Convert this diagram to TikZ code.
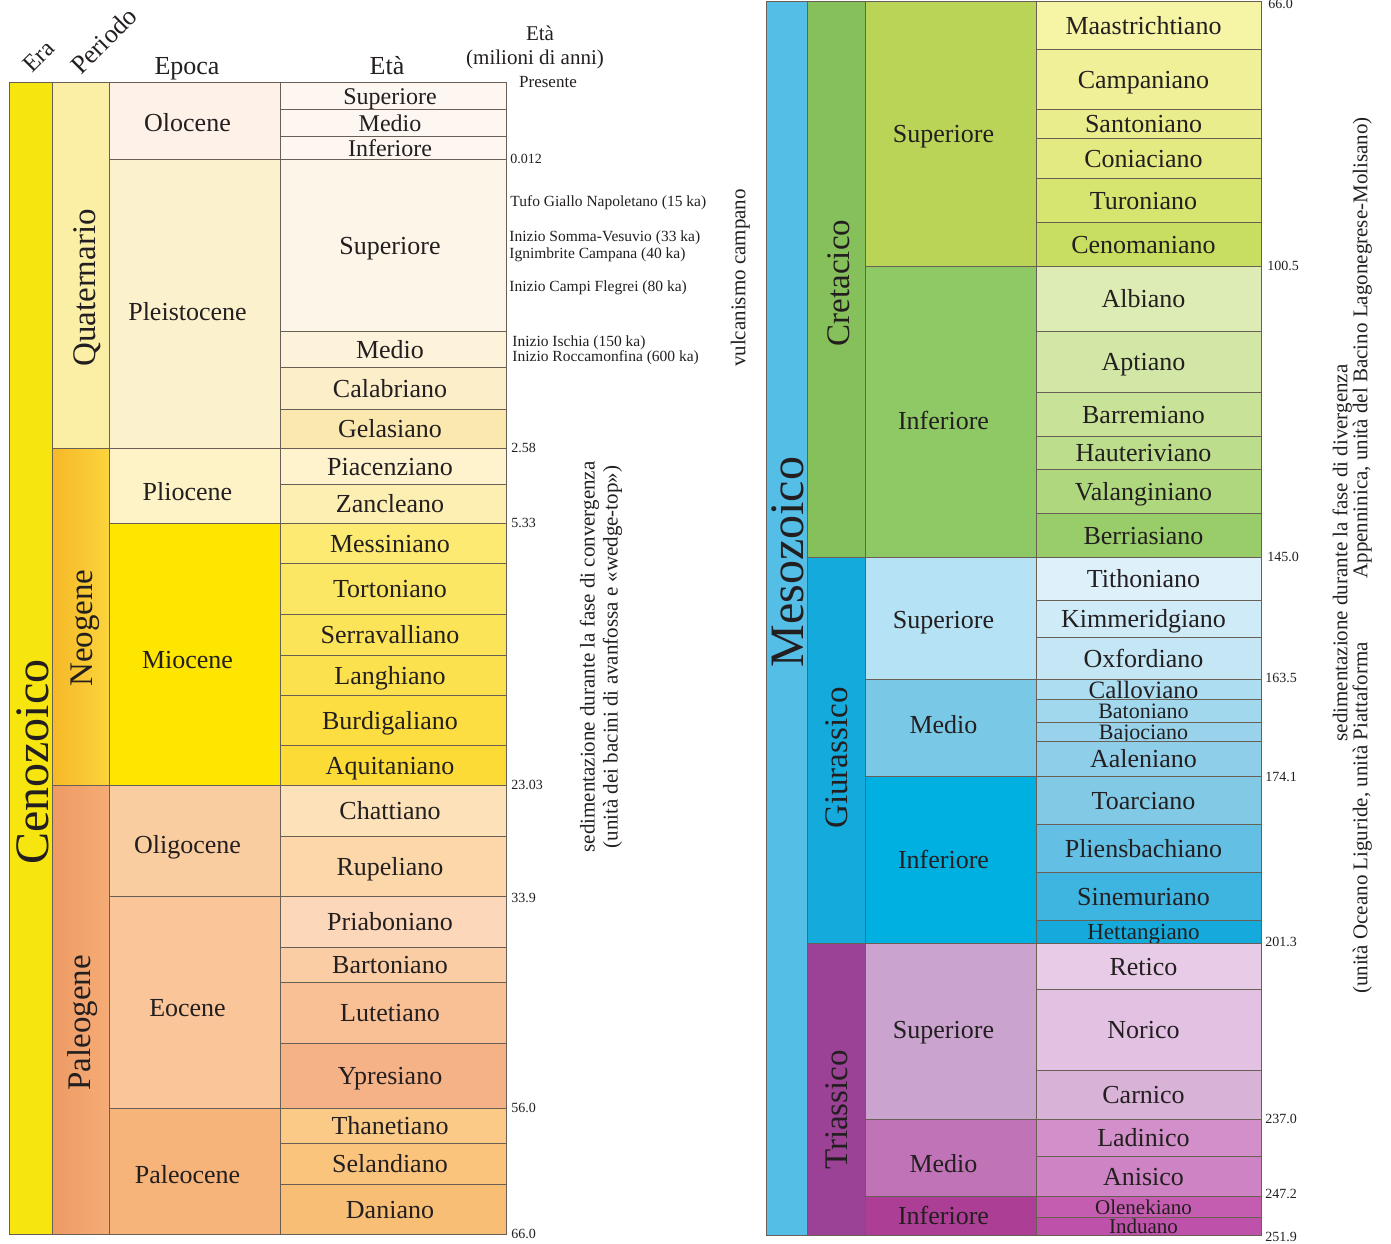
\documentclass[tikz,border=0pt]{standalone}
\usepackage{fontspec}
\setmainfont{Liberation Serif}
\definecolor{lc}{RGB}{105,95,85}
\definecolor{tc}{RGB}{35,31,32}
% left
\definecolor{cenoz}{RGB}{246,229,15}
\definecolor{quat}{RGB}{251,239,165}
\definecolor{olo}{RGB}{253,241,232}
\definecolor{olos}{RGB}{254,246,240}
\definecolor{pleis}{RGB}{252,241,205}
\definecolor{pl1}{RGB}{253,246,232}
\definecolor{pl2}{RGB}{253,242,218}
\definecolor{pl3}{RGB}{252,238,200}
\definecolor{pl4}{RGB}{251,232,175}
\definecolor{plio}{RGB}{254,243,198}
\definecolor{pi1}{RGB}{254,243,205}
\definecolor{pi2}{RGB}{253,238,178}
\definecolor{mio}{RGB}{255,230,0}
\definecolor{m1}{RGB}{252,234,115}
\definecolor{m2}{RGB}{252,231,100}
\definecolor{m3}{RGB}{252,228,88}
\definecolor{m4}{RGB}{252,225,78}
\definecolor{m5}{RGB}{252,222,66}
\definecolor{m6}{RGB}{252,219,55}
\definecolor{oligo}{RGB}{250,205,160}
\definecolor{o1}{RGB}{253,225,185}
\definecolor{o2}{RGB}{252,215,170}
\definecolor{eoc}{RGB}{250,197,152}
\definecolor{e1}{RGB}{253,215,185}
\definecolor{e2}{RGB}{251,205,165}
\definecolor{e3}{RGB}{249,192,150}
\definecolor{e4}{RGB}{245,178,135}
\definecolor{paleoc}{RGB}{246,180,122}
\definecolor{p1}{RGB}{252,202,135}
\definecolor{p2}{RGB}{250,196,125}
\definecolor{p3}{RGB}{249,190,118}
% right
\definecolor{mesoz}{RGB}{85,190,230}
\definecolor{creta}{RGB}{133,192,90}
\definecolor{crsup}{RGB}{186,212,88}
\definecolor{crinf}{RGB}{143,201,102}
\definecolor{c1}{RGB}{246,244,165}
\definecolor{c2}{RGB}{240,240,152}
\definecolor{c3}{RGB}{233,237,140}
\definecolor{c4}{RGB}{227,234,130}
\definecolor{c5}{RGB}{214,228,112}
\definecolor{c6}{RGB}{200,222,96}
\definecolor{c7}{RGB}{220,236,180}
\definecolor{c8}{RGB}{210,231,166}
\definecolor{c9}{RGB}{200,226,152}
\definecolor{c10}{RGB}{188,221,140}
\definecolor{c11}{RGB}{174,215,126}
\definecolor{c12}{RGB}{152,205,106}
\definecolor{giur}{RGB}{20,170,220}
\definecolor{gsup}{RGB}{182,226,245}
\definecolor{gmed}{RGB}{120,200,230}
\definecolor{ginf}{RGB}{0,176,225}
\definecolor{g1}{RGB}{222,241,251}
\definecolor{g2}{RGB}{207,235,248}
\definecolor{g3}{RGB}{196,230,245}
\definecolor{g4}{RGB}{172,221,240}
\definecolor{g5}{RGB}{162,216,238}
\definecolor{g6}{RGB}{152,211,235}
\definecolor{g7}{RGB}{142,206,232}
\definecolor{g8}{RGB}{130,201,230}
\definecolor{g9}{RGB}{100,191,228}
\definecolor{g10}{RGB}{62,181,225}
\definecolor{g11}{RGB}{22,170,220}
\definecolor{trias}{RGB}{155,65,150}
\definecolor{tsup}{RGB}{202,163,207}
\definecolor{tmed}{RGB}{192,115,182}
\definecolor{tinf}{RGB}{172,62,150}
\definecolor{t1}{RGB}{232,203,231}
\definecolor{t2}{RGB}{227,193,226}
\definecolor{t3}{RGB}{217,178,216}
\definecolor{t4}{RGB}{211,143,201}
\definecolor{t5}{RGB}{206,132,196}
\definecolor{t6}{RGB}{196,92,176}
\definecolor{t7}{RGB}{190,82,170}
\newcounter{nodec}
\def\xoff{3}
% stage cell: \bx{x1}{x2}{y1}{y2}{fill}{label}{size}
\newcommand\bx[7]{%
  \stepcounter{nodec}%
  \filldraw[fill=#5,draw=lc] (#1,#3) rectangle (#2,#4);
  \node[lab,anchor=base,font=\fontsize{#7}{#7}\selectfont] (n\arabic{nodec}) at ({(#1+#2)/2-\xoff},{(#3+#4)/2+0.36*#7}) {#6};}
% epoch cell: \ep{x1}{x2}{y1}{y2}{fill}{label}{baseline offset}
\newcommand\ep[7]{%
  \stepcounter{nodec}%
  \filldraw[fill=#5,draw=lc] (#1,#3) rectangle (#2,#4);
  \node[lab,anchor=base,font=\fontsize{26}{26}\selectfont] (n\arabic{nodec}) at ({(#1+#2)/2-\xoff},{(#3+#4)/2+#7}) {#6};}
\newcommand\vlab[5]{% x y size name text
  \node[lab,rotate=90,anchor=base,font=\fontsize{#3}{#3}\selectfont] (#4) at ({#1+0.35*#3},#2) {#5};}
\tikzset{
  lab/.style={text=tc,inner sep=0pt},
  small/.style={text=tc,inner sep=0pt,anchor=west,font=\fontsize{15.5}{17}\selectfont},
  agel/.style={text=tc,inner sep=0pt,anchor=west,font=\fontsize{14}{15}\selectfont}
}
\begin{document}
\begin{tikzpicture}[x=1pt,y=-1pt,line width=0.9pt]
\useasboundingbox (0,0) rectangle (1391,1243);
\fill[white] (0,0) rectangle (1391,1243);
%================ LEFT CHART ================
% era
\filldraw[fill=cenoz,draw=lc] (9,82) rectangle (52,1234);
% periods
\filldraw[fill=quat,draw=lc] (52,82) rectangle (109,448);
\shade[left color={rgb,255:red,246;green,184;blue,40},right color={rgb,255:red,251;green,212;blue,60}] (52,448) rectangle (109,785);
\draw[lc] (52,448) rectangle (109,785);
\shade[left color={rgb,255:red,238;green,154;blue,100},right color={rgb,255:red,245;green,172;blue,118}] (52,785) rectangle (109,1234);
\draw[lc] (52,785) rectangle (109,1234);
% epochs
\def\xoff{7}
\ep{109}{280}{82}{159}{olo}{Olocene}{11}
\ep{109}{280}{159}{448}{pleis}{Pleistocene}{17}
\ep{109}{280}{448}{523}{plio}{Pliocene}{15}
\ep{109}{280}{523}{785}{mio}{Miocene}{14}
\ep{109}{280}{785}{896}{oligo}{Oligocene}{13}
\ep{109}{280}{896}{1108}{eoc}{Eocene}{14}
\ep{109}{280}{1108}{1234}{paleoc}{Paleocene}{12}
% stages
\def\xoff{3}
\bx{280}{506}{82}{109}{olos}{Superiore}{24}
\bx{280}{506}{109}{136}{olos}{Medio}{24}
\bx{280}{506}{136}{159}{olos}{Inferiore}{24}
\bx{280}{506}{159}{331}{pl1}{Superiore}{26}
\bx{280}{506}{331}{367}{pl2}{Medio}{26}
\bx{280}{506}{367}{409}{pl3}{Calabriano}{26}
\bx{280}{506}{409}{448}{pl4}{Gelasiano}{26}
\bx{280}{506}{448}{484}{pi1}{Piacenziano}{26}
\bx{280}{506}{484}{523}{pi2}{Zancleano}{26}
\bx{280}{506}{523}{563}{m1}{Messiniano}{26}
\bx{280}{506}{563}{614}{m2}{Tortoniano}{26}
\bx{280}{506}{614}{655}{m3}{Serravalliano}{26}
\bx{280}{506}{655}{695}{m4}{Langhiano}{26}
\bx{280}{506}{695}{745}{m5}{Burdigaliano}{26}
\bx{280}{506}{745}{785}{m6}{Aquitaniano}{26}
\bx{280}{506}{785}{836}{o1}{Chattiano}{26}
\bx{280}{506}{836}{896}{o2}{Rupeliano}{26}
\bx{280}{506}{896}{947}{e1}{Priaboniano}{26}
\bx{280}{506}{947}{982}{e2}{Bartoniano}{26}
\bx{280}{506}{982}{1043}{e3}{Lutetiano}{26}
\bx{280}{506}{1043}{1108}{e4}{Ypresiano}{26}
\bx{280}{506}{1108}{1143}{p1}{Thanetiano}{26}
\bx{280}{506}{1143}{1184}{p2}{Selandiano}{26}
\bx{280}{506}{1184}{1234}{p3}{Daniano}{26}
% vertical labels
\vlab{32}{762}{48}{cenozoico}{Cenozoico}
\vlab{84}{288}{33}{quaternario}{Quaternario}
\vlab{81}{628}{33}{neogene}{Neogene}
\vlab{79}{1023}{33}{paleogene}{Paleogene}
% headers
\node[lab,rotate=45,anchor=base,font=\fontsize{24}{24}\selectfont] (hera) at (44,62) {Era};
\node[lab,rotate=45,anchor=base,font=\fontsize{26}{26}\selectfont] (hper) at (110,47) {Periodo};
\node[lab,anchor=base,font=\fontsize{26}{26}\selectfont] (hepo) at (187,74) {Epoca};
\node[lab,anchor=base,font=\fontsize{26}{26}\selectfont] (heta) at (387,74) {Età};
\node[lab,anchor=base,font=\fontsize{21}{21}\selectfont] (heta2) at (540,40) {Età};
\node[lab,anchor=base,font=\fontsize{21}{21}\selectfont] (hmil) at (535,64) {(milioni di anni)};
\node[lab,anchor=base,font=\fontsize{17}{17}\selectfont] (hpres) at (548,87) {Presente};
% ages left
\node[agel] (a1) at (510,159) {0.012};
\node[agel] (a2) at (511,448) {2.58};
\node[agel] (a3) at (511,523) {5.33};
\node[agel] (a4) at (511,785) {23.03};
\node[agel] (a5) at (511,898) {33.9};
\node[agel] (a6) at (511,1108) {56.0};
\node[agel] (a7) at (511,1234) {66.0};
% volcanic notes
\node[small] (v1) at (510,203) {Tufo Giallo Napoletano (15 ka)};
\node[small] (v2) at (509,238) {Inizio Somma-Vesuvio (33 ka)};
\node[small] (v3) at (509,255) {Ignimbrite Campana (40 ka)};
\node[small] (v4) at (509,288) {Inizio Campi Flegrei (80 ka)};
\node[small] (v5) at (512,343) {Inizio Ischia (150 ka)};
\node[small] (v6) at (512,358) {Inizio Roccamonfina (600 ka)};
\vlab{738}{278}{21}{vulc}{vulcanismo campano}
\node[text=tc,inner sep=0pt,rotate=90,align=center,font=\fontsize{21}{23}\selectfont] (convl) at (601,657)
  {sedimentazione durante la fase di convergenza\\(unità dei bacini di avanfossa e «wedge-top»)};
%================ RIGHT CHART ================
\filldraw[fill=mesoz,draw=lc] (766,1) rectangle (807,1235);
\filldraw[fill=creta,draw=lc] (807,1) rectangle (865,557);
\filldraw[fill=giur,draw=lc] (807,557) rectangle (865,943);
\filldraw[fill=trias,draw=lc] (807,943) rectangle (865,1235);
% epochs
\def\xoff{7}
\ep{865}{1036}{1}{266}{crsup}{Superiore}{9}
\ep{865}{1036}{266}{557}{crinf}{Inferiore}{18}
\ep{865}{1036}{557}{679}{gsup}{Superiore}{10}
\ep{865}{1036}{679}{776}{gmed}{Medio}{6}
\ep{865}{1036}{776}{943}{ginf}{Inferiore}{9}
\ep{865}{1036}{943}{1119}{tsup}{Superiore}{7}
\ep{865}{1036}{1119}{1196}{tmed}{Medio}{15}
\ep{865}{1036}{1196}{1235}{tinf}{Inferiore}{9}
% stages
\def\xoff{5}
\bx{1036}{1261}{1}{49}{c1}{Maastrichtiano}{26}
\bx{1036}{1261}{49}{109}{c2}{Campaniano}{26}
\bx{1036}{1261}{109}{138}{c3}{Santoniano}{26}
\bx{1036}{1261}{138}{178}{c4}{Coniaciano}{26}
\bx{1036}{1261}{178}{222}{c5}{Turoniano}{26}
\bx{1036}{1261}{222}{266}{c6}{Cenomaniano}{26}
\bx{1036}{1261}{266}{331}{c7}{Albiano}{26}
\bx{1036}{1261}{331}{392}{c8}{Aptiano}{26}
\bx{1036}{1261}{392}{436}{c9}{Barremiano}{26}
\bx{1036}{1261}{436}{469}{c10}{Hauteriviano}{26}
\bx{1036}{1261}{469}{513}{c11}{Valanginiano}{26}
\bx{1036}{1261}{513}{557}{c12}{Berriasiano}{26}
\bx{1036}{1261}{557}{600}{g1}{Tithoniano}{26}
\bx{1036}{1261}{600}{637}{g2}{Kimmeridgiano}{26}
\bx{1036}{1261}{637}{679}{g3}{Oxfordiano}{26}
\bx{1036}{1261}{679}{699}{g4}{Calloviano}{25}
\bx{1036}{1261}{699}{722}{g5}{Batoniano}{22}
\bx{1036}{1261}{722}{741}{g6}{Bajociano}{22}
\bx{1036}{1261}{741}{776}{g7}{Aaleniano}{26}
\bx{1036}{1261}{776}{824}{g8}{Toarciano}{26}
\bx{1036}{1261}{824}{872}{g9}{Pliensbachiano}{26}
\bx{1036}{1261}{872}{920}{g10}{Sinemuriano}{26}
\bx{1036}{1261}{920}{943}{g11}{Hettangiano}{23}
\bx{1036}{1261}{943}{989}{t1}{Retico}{26}
\bx{1036}{1261}{989}{1070}{t2}{Norico}{26}
\bx{1036}{1261}{1070}{1119}{t3}{Carnico}{26}
\bx{1036}{1261}{1119}{1156}{t4}{Ladinico}{26}
\bx{1036}{1261}{1156}{1196}{t5}{Anisico}{26}
\bx{1036}{1261}{1196}{1217}{t6}{Olenekiano}{21}
\bx{1036}{1261}{1217}{1235}{t7}{Induano}{21}
% vertical labels
\vlab{787}{562}{48}{mesozoico}{Mesozoico}
\vlab{838}{283}{33}{cretacico}{Cretacico}
\vlab{836}{758}{33}{giurassico}{Giurassico}
\vlab{836}{1110}{33}{triassico}{Triassico}
% ages right
\node[agel] (b1) at (1268,4) {66.0};
\node[agel] (b2) at (1267,266) {100.5};
\node[agel] (b3) at (1267,557) {145.0};
\node[agel] (b4) at (1265,678) {163.5};
\node[agel] (b5) at (1265,777) {174.1};
\node[agel] (b6) at (1265,942) {201.3};
\node[agel] (b7) at (1265,1119) {237.0};
\node[agel] (b8) at (1265,1194) {247.2};
\node[agel] (b9) at (1265,1237) {251.9};
% divergence notes
\vlab{1340}{553}{21}{div1}{sedimentazione durante la fase di divergenza}
\vlab{1360}{348}{21}{div2}{Appenninica, unità del Bacino Lagonegrese-Molisano)}
\vlab{1360}{818}{21}{div3}{(unità Oceano Liguride, unità Piattaforma}
\end{tikzpicture}
\end{document}
